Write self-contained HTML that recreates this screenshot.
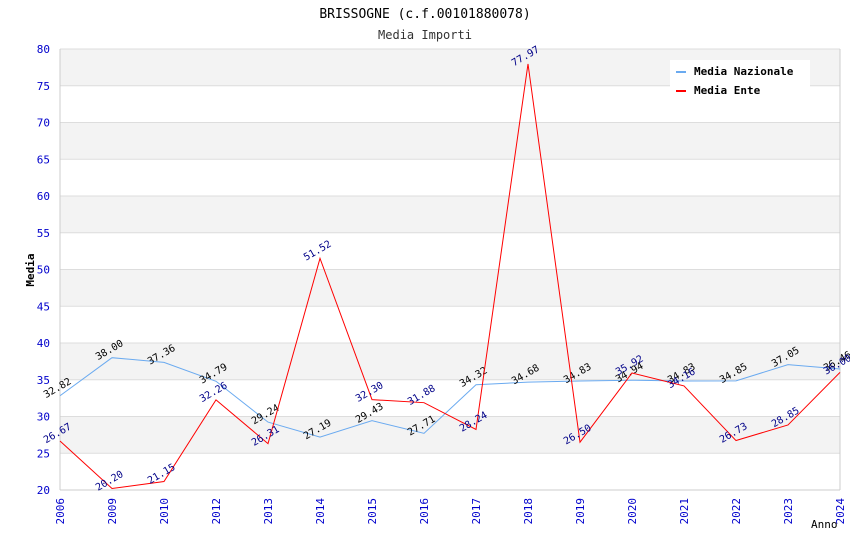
<!DOCTYPE html>
<html><head><meta charset="utf-8"><style>
body{margin:0;background:#fff}
svg{font-family:"DejaVu Sans Mono","Liberation Mono",monospace}
</style></head><body>
<svg id="c" width="850" height="550"></svg>
<script>
const categories=["2006","2009","2010","2012","2013","2014","2015","2016","2017","2018","2019","2020","2021","2022","2023","2024"];
const nazionale=[32.82,38.00,37.36,34.79,29.24,27.19,29.43,27.71,34.32,34.68,34.83,34.94,34.83,34.85,37.05,36.46];
const ente=[26.67,20.20,21.15,32.26,26.31,51.52,32.30,31.88,28.24,77.97,26.50,35.92,34.16,26.73,28.85,36.00];
const yTicks=[20,25,30,35,40,45,50,55,60,65,70,75,80];
const NS="http://www.w3.org/2000/svg";
const svg=document.getElementById('c');
const x0=60,x1=840,y0=490,y1=49;
const X=i=>x0+i*(x1-x0)/(categories.length-1);
const Y=v=>y0-(v-20)*(y0-y1)/60;
function mk(t,a,p){const e=document.createElementNS(NS,t);for(const k in a)e.setAttribute(k,a[k]);(p||svg).appendChild(e);return e;}
for(let i=0;i<yTicks.length-1;i++){
 const b=mk('rect',{x:x0,y:Y(yTicks[i+1]),width:x1-x0,height:Y(yTicks[i])-Y(yTicks[i+1]),fill:i%2==1?'#f3f3f3':'#fff'});
 
 
}
yTicks.forEach(v=>{
 const l=mk('line',{x1:x0,x2:x1,y1:Y(v),y2:Y(v),stroke:'#ddd'});
 
 
 const t=mk('text',{x:50,y:Y(v)+4,'text-anchor':'end','font-size':11,fill:'#00c'});t.textContent=v;
 
 
});
mk('line',{x1:x0,x2:x0,y1:y1,y2:y0,stroke:'#ccc'});
mk('line',{x1:x1,x2:x1,y1:y1,y2:y0,stroke:'#ccc'});
mk('line',{x1:x0,x2:x1,y1:y0,y2:y0,stroke:'#ccc'});
categories.forEach((c,i)=>{
 const t=mk('text',{x:X(i)+4,y:y0+8,'text-anchor':'end','font-size':11,fill:'#00c',transform:`rotate(-90 ${X(i)+4} ${y0+8})`});t.textContent=c;
 
 
});
function series(d,col,lc,name){
 const p=mk('polyline',{points:d.map((v,i)=>X(i)+','+Y(v)).join(' '),fill:'none',stroke:col,'stroke-width':1});
 
 
 d.forEach((v,i)=>{
  const x=X(i)-1,y=Y(v)-5;
  const t=mk('text',{x:x,y:y,'text-anchor':'middle','font-size':10,fill:lc,transform:`rotate(-30 ${x} ${y})`});t.textContent=v.toFixed(2);
  
  
 });
}
series(nazionale,'#6aaaf0','#000','nazionale');
series(ente,'#f00','#008','ente');
const g=mk('g',{});


mk('rect',{x:670,y:60,width:140,height:40,fill:'#fff'},g);
mk('line',{x1:676,x2:686,y1:72,y2:72,stroke:'#6aaaf0','stroke-width':2},g);
mk('line',{x1:676,x2:686,y1:91,y2:91,stroke:'#f00','stroke-width':2},g);
let t=mk('text',{x:694,y:75,'font-size':11,'font-weight':'bold'},g);t.textContent='Media Nazionale';
t=mk('text',{x:694,y:94,'font-size':11,'font-weight':'bold'},g);t.textContent='Media Ente';
t=mk('text',{x:425,y:18,'text-anchor':'middle','font-size':13});t.textContent='BRISSOGNE (c.f.00101880078)';

t=mk('text',{x:425,y:39,'text-anchor':'middle','font-size':12,fill:'#333'});t.textContent='Media Importi';

t=mk('text',{x:34,y:270,'text-anchor':'middle','font-size':11,'font-weight':'bold',transform:'rotate(-90 34 270)'});t.textContent='Media';

t=mk('text',{x:811,y:528,'font-size':11});t.textContent='Anno';

</script>
</body></html>
